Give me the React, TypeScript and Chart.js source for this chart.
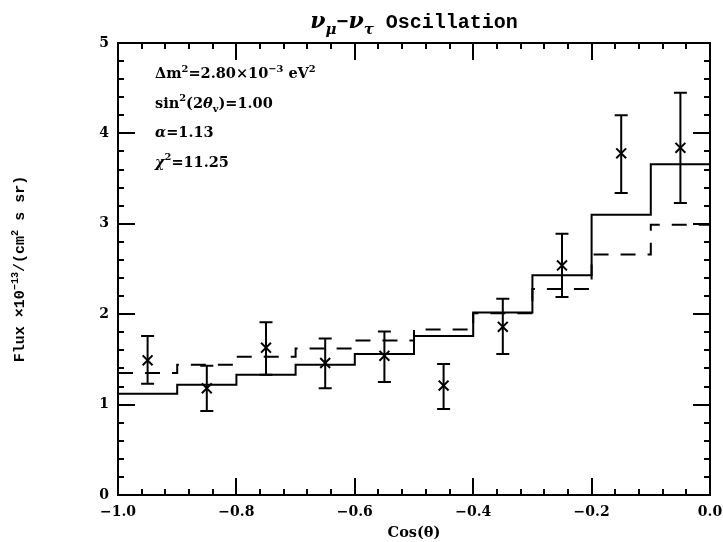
import React, { useEffect, useRef } from 'react';
import { Chart, registerables } from 'chart.js';

Chart.register(...registerables);

// ---- data ----
const binEdges = [-1.0, -0.9, -0.8, -0.7, -0.6, -0.5, -0.4, -0.3, -0.2, -0.1, 0.0];
const binCenters = [-0.95, -0.85, -0.75, -0.65, -0.55, -0.45, -0.35, -0.25, -0.15, -0.05];
const measuredFlux = [1.49, 1.18, 1.63, 1.46, 1.54, 1.21, 1.86, 2.54, 3.78, 3.84];
const fluxErrLow = [1.23, 0.93, 1.33, 1.18, 1.25, 0.95, 1.56, 2.19, 3.34, 3.23];
const fluxErrHigh = [1.76, 1.43, 1.91, 1.73, 1.81, 1.45, 2.17, 2.89, 4.20, 4.45];
const oscillationFit = [1.12, 1.22, 1.33, 1.44, 1.56, 1.76, 2.02, 2.43, 3.10, 3.66];
const noOscillation = [1.35, 1.44, 1.53, 1.62, 1.71, 1.83, 2.01, 2.28, 2.66, 2.99];
const xTicks = [-1.0, -0.8, -0.6, -0.4, -0.2, 0.0];
const yTicks = [0, 1, 2, 3, 4, 5];
const xMinorStep = 0.04;
const yMinorStep = 0.2;

const SERIF = '"DejaVu Serif", serif';
const MONO = '"Liberation Mono", "DejaVu Sans Mono", monospace';

type Seg = { t: string; pos?: 'sup' | 'sub'; italic?: boolean; family?: string; size?: number };

function drawRich(
  ctx: CanvasRenderingContext2D,
  segs: Seg[],
  x: number,
  y: number,
  size: number,
  family: string,
  weight: string,
  align: 'left' | 'center'
) {
  const fontFor = (s: Seg) => {
    const sz = s.size ?? (s.pos ? size * 0.68 : size);
    return `${s.italic ? 'italic ' : ''}${weight} ${sz}px ${s.family || family}`;
  };
  const widths = segs.map((s) => {
    ctx.font = fontFor(s);
    return ctx.measureText(s.t).width;
  });
  const total = widths.reduce((a, b) => a + b, 0);
  let cx = align === 'center' ? x - total / 2 : x;
  ctx.textAlign = 'left';
  ctx.textBaseline = 'alphabetic';
  segs.forEach((s, i) => {
    ctx.font = fontFor(s);
    const dy = s.pos === 'sup' ? -size * 0.42 : s.pos === 'sub' ? size * 0.28 : 0;
    ctx.fillText(s.t, cx, y + dy);
    cx += widths[i];
  });
}

function histPoints(edges: number[], vals: number[]) {
  const pts: { x: number; y: number }[] = [];
  vals.forEach((v, i) => {
    pts.push({ x: edges[i], y: v });
    pts.push({ x: edges[i + 1], y: v });
  });
  return pts;
}

const decorPlugin = {
  id: 'decor',
  afterDraw(chart: any) {
    const ctx: CanvasRenderingContext2D = chart.ctx;
    const { left, right, top, bottom } = chart.chartArea;
    const xs = chart.scales.x;
    const ys = chart.scales.y;
    ctx.save();
    ctx.strokeStyle = '#000';
    ctx.fillStyle = '#000';

    // error bars
    ctx.lineWidth = 2;
    binCenters.forEach((c, i) => {
      const px = xs.getPixelForValue(c);
      const y1 = ys.getPixelForValue(fluxErrLow[i]);
      const y2 = ys.getPixelForValue(fluxErrHigh[i]);
      ctx.beginPath();
      ctx.moveTo(px, y1);
      ctx.lineTo(px, y2);
      ctx.moveTo(px - 6.5, y1);
      ctx.lineTo(px + 6.5, y1);
      ctx.moveTo(px - 6.5, y2);
      ctx.lineTo(px + 6.5, y2);
      ctx.stroke();
    });

    // frame
    ctx.lineWidth = 2;
    ctx.strokeRect(left, top, right - left, bottom - top);

    // inward ticks
    const MAJ = 17;
    const MIN = 6;
    ctx.lineWidth = 2;
    ctx.beginPath();
    const nx = Math.round((xs.max - xs.min) / xMinorStep);
    for (let i = 1; i < nx; i++) {
      const v = xs.min + i * xMinorStep;
      const isMaj = xTicks.some((t) => Math.abs(t - v) < 1e-6);
      const len = isMaj ? MAJ : MIN;
      const px = Math.round(xs.getPixelForValue(v));
      ctx.moveTo(px, bottom);
      ctx.lineTo(px, bottom - len);
      ctx.moveTo(px, top);
      ctx.lineTo(px, top + len);
    }
    const ny = Math.round((ys.max - ys.min) / yMinorStep);
    for (let i = 1; i < ny; i++) {
      const v = ys.min + i * yMinorStep;
      const isMaj = yTicks.some((t) => Math.abs(t - v) < 1e-6);
      const len = isMaj ? MAJ : MIN;
      const py = Math.round(ys.getPixelForValue(v));
      ctx.moveTo(left, py);
      ctx.lineTo(left + len, py);
      ctx.moveTo(right, py);
      ctx.lineTo(right - len, py);
    }
    ctx.stroke();

    // title
    const cxMid = (left + right) / 2;
    drawRich(
      ctx,
      [
        { t: 'ν', italic: true, family: SERIF, size: 22 },
        { t: 'μ', italic: true, family: SERIF, pos: 'sub', size: 15 },
        { t: '−', family: MONO },
        { t: 'ν', italic: true, family: SERIF, size: 22 },
        { t: 'τ', italic: true, family: SERIF, pos: 'sub', size: 15 },
        { t: ' Oscillation', family: MONO },
      ],
      cxMid,
      28,
      20,
      MONO,
      'bold',
      'center'
    );

    // annotation block
    const ax = left + 37;
    const fs = 14.5;
    const lines: Seg[][] = [
      [
        { t: 'Δm' },
        { t: '2', pos: 'sup' },
        { t: '=2.80×10' },
        { t: '−3', pos: 'sup' },
        { t: ' eV' },
        { t: '2', pos: 'sup' },
      ],
      [
        { t: 'sin' },
        { t: '2', pos: 'sup' },
        { t: '(2' },
        { t: 'θ', italic: true },
        { t: 'v', pos: 'sub' },
        { t: ')=1.00' },
      ],
      [{ t: 'α', italic: true }, { t: '=1.13' }],
      [{ t: 'χ', italic: true }, { t: '2', pos: 'sup' }, { t: '=11.25' }],
    ];
    lines.forEach((ln, i) => {
      drawRich(ctx, ln, ax, top + 35 + i * 29.5, fs, SERIF, 'bold', 'left');
    });

    // y-axis title (rotated)
    ctx.save();
    ctx.translate(24, (top + bottom) / 2);
    ctx.rotate(-Math.PI / 2);
    drawRich(
      ctx,
      [
        { t: 'Flux ×10' },
        { t: '−13', pos: 'sup' },
        { t: '/(cm' },
        { t: '2', pos: 'sup' },
        { t: ' s sr)' },
      ],
      0,
      0,
      15,
      MONO,
      'bold',
      'center'
    );
    ctx.restore();

    // x-axis title
    drawRich(ctx, [{ t: 'Cos(' }, { t: 'θ' }, { t: ')' }], cxMid, bottom + 42, 14.5, SERIF, 'bold', 'center');

    ctx.restore();
  },
};

export default function App() {
  const ref = useRef<HTMLCanvasElement | null>(null);

  useEffect(() => {
    document.body.style.margin = '0';
    const canvas = ref.current;
    if (!canvas) return;
    const chart = new Chart(canvas, {
      type: 'line',
      data: {
        datasets: [
          {
            type: 'line',
            label: 'oscillation fit',
            data: histPoints(binEdges, oscillationFit),
            borderColor: '#000',
            borderWidth: 2,
            pointRadius: 0,
            fill: false,
            tension: 0,
          },
          {
            type: 'line',
            label: 'no oscillation',
            data: histPoints(binEdges, noOscillation),
            borderColor: '#000',
            borderWidth: 2,
            borderDash: [15, 12],
            pointRadius: 0,
            fill: false,
            tension: 0,
          },
          {
            type: 'scatter',
            label: 'data',
            data: binCenters.map((c, i) => ({ x: c, y: measuredFlux[i] })),
            pointStyle: 'crossRot',
            pointRadius: 7,
            borderColor: '#000',
            borderWidth: 2,
            showLine: false,
          },
        ],
      } as any,
      options: {
        responsive: false,
        animation: false,
        events: [],
        layout: { padding: { top: 43, right: 13, left: 0, bottom: 0 } },
        plugins: { legend: { display: false }, tooltip: { enabled: false }, title: { display: false } },
        scales: {
          x: {
            type: 'linear',
            min: -1,
            max: 0,
            grid: { display: false, drawTicks: false },
            border: { display: false },
            afterBuildTicks: (s: any) => {
              s.ticks = xTicks.map((v) => ({ value: v }));
            },
            afterFit: (s: any) => {
              s.height = 47;
              s.paddingLeft = 0;
              s.paddingRight = 0;
            },
            ticks: {
              autoSkip: false,
              maxRotation: 0,
              padding: 9,
              color: '#000',
              font: { family: SERIF, weight: 'bold', size: 14 },
              callback: (v: any) => Number(v).toFixed(1).replace('-', '−'),
            },
          },
          y: {
            type: 'linear',
            min: 0,
            max: 5,
            grid: { display: false, drawTicks: false },
            border: { display: false },
            afterBuildTicks: (s: any) => {
              s.ticks = yTicks.map((v) => ({ value: v }));
            },
            afterFit: (s: any) => {
              s.width = 118;
              s.paddingTop = 0;
              s.paddingBottom = 0;
            },
            ticks: {
              autoSkip: false,
              padding: 9,
              color: '#000',
              font: { family: SERIF, weight: 'bold', size: 14 },
              callback: (v: any) => String(Math.round(Number(v))),
            },
          },
        },
      } as any,
      plugins: [decorPlugin],
    });
    return () => chart.destroy();
  }, []);

  return (
    <div style={{ position: 'fixed', left: 0, top: 0, width: 723, height: 542, background: '#fff' }}>
      <canvas ref={ref} width={723} height={542} style={{ display: 'block' }} />
    </div>
  );
}
